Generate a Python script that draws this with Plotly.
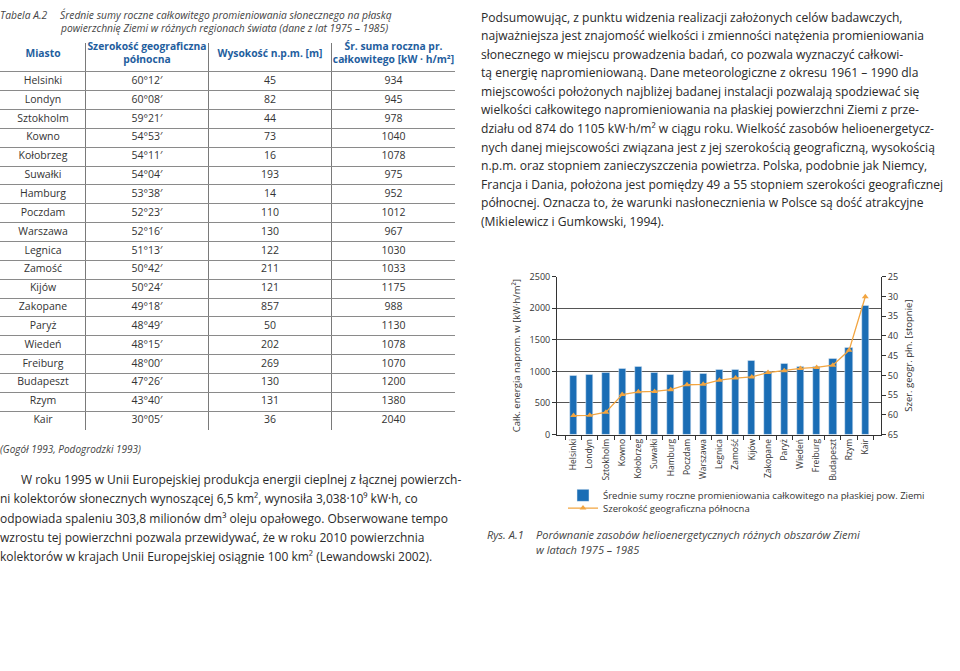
import plotly.graph_objects as go

# ---------------- data ----------------
cities = ["Helsinki", "Londyn", "Sztokholm", "Kowno", "Kołobrzeg", "Suwałki", "Hamburg",
          "Poczdam", "Warszawa", "Legnica", "Zamość", "Kijów", "Zakopane", "Paryż",
          "Wiedeń", "Freiburg", "Budapeszt", "Rzym", "Kair"]
lat_deg = [60, 60, 59, 54, 54, 54, 53, 52, 52, 51, 50, 50, 49, 48, 48, 48, 47, 43, 30]
lat_min = [12, 8, 21, 53, 11, 4, 38, 23, 16, 13, 42, 24, 18, 49, 15, 0, 26, 40, 5]
altitude = [45, 82, 44, 73, 16, 193, 14, 110, 130, 122, 211, 121, 857, 50, 202, 269, 130, 131, 36]
irradiance = [934, 945, 978, 1040, 1078, 975, 952, 1012, 967, 1030, 1033, 1175, 988, 1130,
              1078, 1070, 1200, 1380, 2040]

header_labels = ["Miasto", "Szerokość geograficzna<br>północna", "Wysokość n.p.m. [m]",
                 "Śr. suma roczna pr.<br>całkowitego [kW · h/m²]"]

bar_name = "Średnie sumy roczne promieniowania całkowitego na płaskiej pow. Ziemi"
line_name = "Szerokość geograficzna północna"

lat_text = [f"{d}°{m:02d}′" for d, m in zip(lat_deg, lat_min)]
lat_decimal = [d + m / 60 for d, m in zip(lat_deg, lat_min)]

title_lines = ["Średnie sumy roczne całkowitego promieniowania słonecznego na płaską",
               "powierzchnię Ziemi w różnych regionach świata (dane z lat 1975 – 1985)"]
source_text = "(Gogół 1993, Podogrodzki 1993)"

left_par = [
    "W roku 1995 w Unii Europejskiej produkcja energii cieplnej z łącznej powierzch-",
    "ni kolektorów słonecznych wynoszącej 6,5 km², wynosiła 3,038·10⁹ kW·h, co",
    "odpowiada spaleniu 303,8 milionów dm³ oleju opałowego. Obserwowane tempo",
    "wzrostu tej powierzchni pozwala przewidywać, że w roku 2010 powierzchnia",
    "kolektorów w krajach Unii Europejskiej osiągnie 100 km² (Lewandowski 2002).",
]
right_par = [
    "Podsumowując, z punktu widzenia realizacji założonych celów badawczych,",
    "najważniejsza jest znajomość wielkości i zmienności natężenia promieniowania",
    "słonecznego w miejscu prowadzenia badań, co pozwala wyznaczyć całkowi-",
    "tą energię napromieniowaną. Dane meteorologiczne z okresu 1961 – 1990 dla",
    "miejscowości położonych najbliżej badanej instalacji pozwalają spodziewać się",
    "wielkości całkowitego napromieniowania na płaskiej powierzchni Ziemi z prze-",
    "działu od 874 do 1105 kW·h/m² w ciągu roku. Wielkość zasobów helioenergetycz-",
    "nych danej miejscowości związana jest z jej szerokością geograficzną, wysokością",
    "n.p.m. oraz stopniem zanieczyszczenia powietrza. Polska, podobnie jak Niemcy,",
    "Francja i Dania, położona jest pomiędzy 49 a 55 stopniem szerokości geograficznej",
    "północnej. Oznacza to, że warunki nasłonecznienia w Polsce są dość atrakcyjne",
    "(Mikielewicz i Gumkowski, 1994).",
]
caption_lines = ["Porównanie zasobów helioenergetycznych różnych obszarów Ziemi",
                 "w latach 1975 – 1985"]

# ---------------- styles ----------------
W, H = 960, 671
FONT = "Open Sans"
TXT = "#2a2a2a"
BLUE = "#1a6db5"
ORANGE = "#f2a541"
HEAD_BLUE = "#1f5e9e"

def px_x(x):
    return x / W

def px_y(y):
    return 1 - y / H

fig = go.Figure()

# ---------------- table (built on a hidden axis pair) ----------------
col_centers = [43, 147, 270, 393.5]
col_bounds = [85.7, 208.3, 331.7]
rows = list(range(len(cities)))
header_row = -1.45
columns = [cities, lat_text, [str(a) for a in altitude], [str(v) for v in irradiance]]
for ci, col in enumerate(columns):
    fig.add_trace(go.Scatter(
        x=[col_centers[ci]] * len(col), y=rows, text=col, mode="text",
        textfont=dict(family=FONT, size=10.5, color="#333"), cliponaxis=False,
        xaxis="x3", yaxis="y3", showlegend=False, hoverinfo="skip"))
fig.add_trace(go.Scatter(
    x=col_centers, y=[header_row] * 4, text=[f"<b>{h}</b>" for h in header_labels],
    mode="text", textfont=dict(family=FONT, size=10.3, color=HEAD_BLUE), cliponaxis=False,
    xaxis="x3", yaxis="y3", showlegend=False, hoverinfo="skip"))

# ---------------- chart ----------------
fig.add_trace(go.Bar(x=cities, y=irradiance, name=bar_name, marker_color=BLUE,
                     width=0.45, xaxis="x", yaxis="y", legend="legend"))
fig.add_trace(go.Scatter(x=cities, y=lat_decimal, name=line_name, mode="lines+markers",
                         line=dict(color=ORANGE, width=1.3),
                         marker=dict(symbol="triangle-up", size=6, color=ORANGE),
                         xaxis="x", yaxis="y2", legend="legend2"))

axis_font = dict(family=FONT, size=9, color="#333")
leg_font = dict(family=FONT, size=9.5, color="#333")

fig.update_layout(
    width=W, height=H,
    margin=dict(l=0, r=0, t=0, b=0),
    paper_bgcolor="white", plot_bgcolor="white",
    font=dict(family=FONT, color=TXT),
    bargap=0,
    xaxis=dict(domain=[px_x(557), px_x(881)], anchor="y", type="category",
               range=[-1.02, 18.97], showline=True, linecolor="#333", linewidth=1,
               ticks="outside", tickson="boundaries", ticklen=4, tickcolor="#333",
               tickangle=-90, tickfont=dict(family=FONT, size=8.5, color="#333"),
               showgrid=False, fixedrange=True),
    yaxis=dict(domain=[px_y(436), px_y(275)], anchor="x", range=[0, 2500], dtick=500,
               showgrid=True, gridcolor="#555", gridwidth=1, zeroline=False,
               showline=True, linecolor="#333", ticks="outside", ticklen=4,
               tickcolor="#333", tickfont=axis_font,
               title=dict(text="Całk. energia naprom. w [kW·h/m²]",
                          font=dict(family=FONT, size=9.5, color="#333"), standoff=7)),
    yaxis2=dict(overlaying="y", side="right", anchor="x", range=[65, 25], dtick=5,
                showgrid=False, zeroline=False, showline=True, linecolor="#333",
                ticks="outside", ticklen=4, tickcolor="#333", tickfont=axis_font,
                title=dict(text="Szer. geogr. płn. [stopnie]",
                           font=dict(family=FONT, size=9.5, color="#333"), standoff=8)),
    xaxis3=dict(domain=[0, px_x(455)], anchor="y3", range=[0, 455],
                tickvals=col_bounds, showticklabels=False, showgrid=True,
                gridcolor="#7a7a7a", gridwidth=1, zeroline=False, showline=False,
                ticks="", fixedrange=True),
    yaxis3=dict(domain=[px_y(431.7), px_y(36.7)], anchor="x3", range=[18.52, -2.03],
                tickvals=[r - 0.5 for r in rows], showticklabels=False, showgrid=True,
                gridcolor="#8a8a8a", gridwidth=1, zeroline=False, showline=False,
                ticks="", fixedrange=True),
    legend=dict(x=px_x(563), y=px_y(498), xanchor="left", yanchor="middle",
                font=leg_font, bgcolor="rgba(0,0,0,0)", itemwidth=30),
    legend2=dict(x=px_x(563), y=px_y(511), xanchor="left", yanchor="middle",
                 font=leg_font, bgcolor="rgba(0,0,0,0)", itemwidth=30),
    showlegend=True,
)

# ---------------- texts ----------------
ann = []

def add_text(x, y, text, size, italic=False, color=TXT, anchor="left"):
    ann.append(dict(x=px_x(x), y=px_y(y), xref="paper", yref="paper", text=text,
                    showarrow=False, xanchor=anchor, yanchor="middle", align="left",
                    font=dict(family=FONT, size=size, color=color,
                              style="italic" if italic else "normal")))

add_text(-2, 8, "Tabela A.2", 10.3, italic=True, color="#444")
for i, t in enumerate(title_lines):
    add_text(58, 8 + 13.5 * i, t, 10.3, italic=True, color="#444")
add_text(-2, 451, source_text, 10, italic=True, color="#444")

for i, t in enumerate(left_par):
    add_text(19 if i == 0 else -2, 481.7 + 19.75 * i, t, 12)
for i, t in enumerate(right_par):
    add_text(479, 10.5 + 18.9 * i, t, 12.1)

add_text(485, 538, "Rys. A.1", 11, italic=True, color="#444")
for i, t in enumerate(caption_lines):
    add_text(534, 538 + 15 * i, t, 11, italic=True, color="#444")

fig.update_layout(annotations=ann)

fig.write_html("out.html", config={"displayModeBar": False},
               post_script="document.body.style.margin='0';document.body.style.overflow='hidden';")
